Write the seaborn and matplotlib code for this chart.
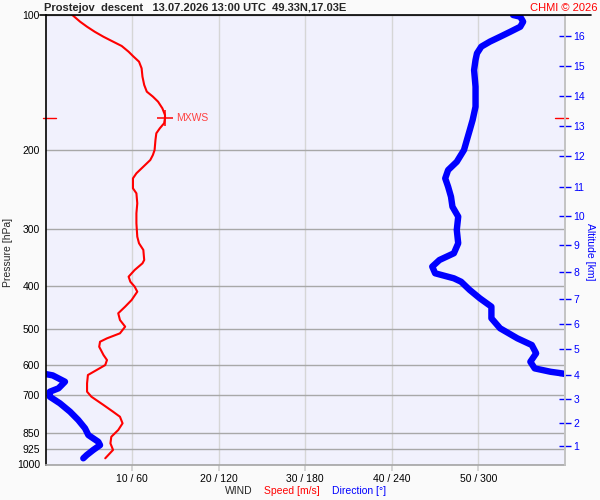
import numpy as np
import pandas as pd
import matplotlib
matplotlib.use("Agg")
import matplotlib.pyplot as plt
import matplotlib.transforms as mtransforms
from matplotlib.lines import Line2D
from matplotlib.ticker import NullLocator
import seaborn as sns

# wind speed profile (hPa, m/s)
spd_p = [100, 103.5, 106.2, 109.0, 111.8, 114.1, 117.2, 120.7, 123.4, 127.0,
         131.4, 137.2, 143.1, 148.1, 151.9, 155.9, 161.3, 166.9, 169.7, 174.1,
         178.7, 183.3, 189.7, 199.7, 204.9, 210.2, 217.5, 225.0, 230.9, 243.0,
         249.3, 262.4, 276.2, 290.7, 311.3, 322.0, 333.2, 350.8, 356.8, 369.2,
         382.1, 392.1, 402.2, 412.6, 430.5, 445.5, 460.9, 477.0, 493.6, 510.7,
         524.0, 533.2, 547.0, 570.8, 585.6, 600.8, 616.4, 632.3, 659.7, 688.7,
         706.6, 737.3, 763.0, 783.0, 809.8, 838.1, 867.6, 897.3, 928.1, 968.7]
spd_ms = [3.1, 4.0, 4.8, 5.7, 6.7, 7.6, 8.8, 9.6, 10.1, 10.8,
          11.1, 11.2, 11.4, 11.7, 12.4, 13.0, 13.5, 13.8, 13.8, 13.7,
          13.2, 12.8, 12.7, 12.6, 12.4, 12.1, 11.3, 10.5, 10.1, 10.1,
          10.5, 10.6, 10.5, 10.5, 10.6, 10.8, 11.3, 11.4, 11.2, 10.3,
          9.6, 9.8, 10.3, 10.6, 9.95, 9.2, 8.4, 8.6, 9.2, 8.6,
          7.1, 6.3, 6.2, 6.7, 7.1, 6.9, 5.9, 4.9, 4.8, 4.8,
          5.3, 6.7, 7.8, 8.6, 8.9, 8.4, 7.6, 7.5, 7.8, 6.9]

# wind direction profile (hPa, deg)
dir_p = [100, 100.9, 103.5, 106.2, 109.0, 111.8, 114.6, 117.6, 121.7, 125.9,
         132.6, 144.4, 160.0, 171.2, 180.3, 189.7, 199.7, 212.1, 221.3, 230.9,
         241.0, 253.7, 267.0, 280.9, 300.8, 322.0, 338.9, 350.8, 362.9, 375.5,
         385.3, 392.1, 409.1, 426.9, 445.5, 472.8, 497.7, 524.0, 542.3, 565.8,
         590.8, 611.2, 621.9, 627.1, 630.0, 633.5, 654.4, 676.9, 688.7, 706.6,
         731.0, 763.0, 796.2, 830.9, 860.0, 890.3, 905.6, 928.1, 952.6, 968.7]
dir_deg = [324, 329, 331, 329, 322, 315, 308, 302, 299, 298,
           297, 298, 298, 296, 294, 292, 290, 285, 279, 277,
           279, 281, 282, 286, 285, 286, 283, 273, 268, 270,
           283, 288, 294, 301, 309, 309, 315, 327, 337, 340,
           336, 339, 350, 358, 1, 5, 13.5, 9, 3, 3,
           10, 17, 22.7, 27.4, 29.7, 36.6, 37.8, 33.1, 28.6, 26.2]

# maximum wind
mxws_ms = 13.8
mxws_p = 169.7

# altitude scale
alt_km = list(range(1, 17))
alt_p = [909.8, 808.7, 715.5, 632.8, 553.9, 487.3, 428.7, 373.5,
         325.3, 280.4, 241.6, 206.3, 176.9, 151.7, 130.1, 111.6]

p_ticks = [100, 200, 300, 400, 500, 600, 700, 850, 925, 1000]
wind_ticks = [10, 20, 30, 40, 50]
wind_labels = ["10 / 60", "20 / 120", "30 / 180", "40 / 240", "50 / 300"]

sns.set_theme(style="white", rc={"axes.facecolor": "#f1f1fd",
                                 "figure.facecolor": "#fafafa"})
plt.rcParams["font.family"] = ["Liberation Sans", "DejaVu Sans"]

df_spd = pd.DataFrame({"p": spd_p, "spd": spd_ms})

# direction in speed units (360 deg == 60 m/s), split where it wraps
d = np.array(dir_deg, dtype=float)
pp = np.array(dir_p, dtype=float)
jumps = np.where(np.abs(np.diff(d)) > 180)[0]
rows = []
seg = 0
start = 0
for j in list(jumps) + [len(d) - 1]:
    xs = list(d[start:j + 1])
    ys = list(pp[start:j + 1])
    if start > 0:
        xs = [d[start - 1] - 360 * np.sign(d[start - 1] - d[start])] + xs
        ys = [pp[start - 1]] + ys
    if j < len(d) - 1:
        xs = xs + [d[j + 1] + 360 * np.sign(d[j] - d[j + 1])]
        ys = ys + [pp[j + 1]]
    for x, y in zip(xs, ys):
        rows.append({"p": y, "dir": x / 6.0, "seg": seg})
    seg += 1
    start = j + 1
df_dir = pd.DataFrame(rows)

fig = plt.figure(figsize=(6, 5), dpi=100)
ax = fig.add_axes([45.5 / 600, 1 - 464.5 / 500, 519.5 / 600, 449.5 / 500])
ax.set_yscale("log")

sns.lineplot(data=df_dir, x="dir", y="p", units="seg", estimator=None, sort=False,
             color="#0000ff", linewidth=4.6, solid_capstyle="round",
             solid_joinstyle="round", ax=ax)
sns.lineplot(data=df_spd, x="spd", y="p", estimator=None, sort=False,
             color="#ff0000", linewidth=1.5, ax=ax)

ax.set_xlim(0, 60)
ax.set_ylim(1000, 100)
ax.set_yticks(p_ticks, [str(v) for v in p_ticks])
ax.yaxis.set_minor_locator(NullLocator())
ax.set_xticks(wind_ticks, wind_labels)
ax.set_xlabel("")
ax.set_ylabel("")
ax.xaxis.grid(True, color="#d6d6d6", lw=1)
ax.yaxis.grid(True, color="#a8a8a8", lw=1)
ax.tick_params(axis="x", bottom=True, length=4, color="#d0d0d0", labelsize=7.5,
               pad=3, labelcolor="black")
ax.tick_params(axis="y", left=False, length=0, labelsize=7.5, pad=4, labelcolor="black")
ax.spines["top"].set_visible(False)
ax.spines["left"].set_color("black")
ax.spines["left"].set_linewidth(1.2)
ax.spines["right"].set_color("#c4c4c4")
ax.spines["bottom"].set_color("#a8a8a8")

# max wind marker
blend = mtransforms.blended_transform_factory(ax.transAxes, ax.transData)
ax.plot([-0.005, 0.02], [mxws_p, mxws_p], transform=blend, color="red", lw=1, clip_on=False)
ax.plot([0.981, 1.006], [mxws_p, mxws_p], transform=blend, color="red", lw=1,
        clip_on=False, zorder=5)
ax.plot([mxws_ms], [mxws_p], marker="+", ms=11, mew=1.1, color="red")
ax.annotate("MXWS", (mxws_ms, mxws_p), xytext=(8, 0), textcoords="offset points",
            va="center", ha="left", fontsize=7.5, color="#ff4040")

# altitude axis
ax2 = ax.twinx()
ax2.set_yscale("log")
ax2.set_ylim(1000, 100)
ax2.set_yticks(alt_p, [str(k) for k in alt_km])
ax2.yaxis.set_minor_locator(NullLocator())
ax2.tick_params(axis="y", right=True, direction="inout", length=8, width=1,
                color="#0000ff", labelcolor="#0000ff", labelsize=7.5, pad=2)
for s in ["top", "left", "bottom"]:
    ax2.spines[s].set_visible(False)
ax2.spines["right"].set_color("#c4c4c4")
ax2.grid(False)

fig.add_artist(Line2D([40 / 600, 591 / 600], [1 - 15 / 500] * 2, color="black", lw=1.2))
fig.text(44 / 600, 1 - 8 / 500, "Prostejov  descent   13.07.2026 13:00 UTC  49.33N,17.03E",
         fontsize=8, fontweight="bold", va="center", ha="left")
fig.text(597 / 600, 1 - 8 / 500, "CHMI \u00a9 2026", fontsize=8, color="red",
         va="center", ha="right")
fig.text(8 / 600, 1 - 252 / 500, "Pressure [hPa]", rotation=90, fontsize=7.5,
         va="center", ha="center")
fig.text(590 / 600, 1 - 252 / 500, "Altitude [km]", rotation=270, fontsize=7.5,
         color="#0000ff", va="center", ha="center")
fig.text(225 / 600, 1 - 491 / 500, "WIND", fontsize=7.5, va="center", ha="left")
fig.text(264 / 600, 1 - 491 / 500, "Speed [m/s]", fontsize=7.5, color="red",
         va="center", ha="left")
fig.text(332 / 600, 1 - 491 / 500, "Direction [\u00b0]", fontsize=7.5, color="#0000ff",
         va="center", ha="left")

fig.savefig("out.png", dpi=100)
